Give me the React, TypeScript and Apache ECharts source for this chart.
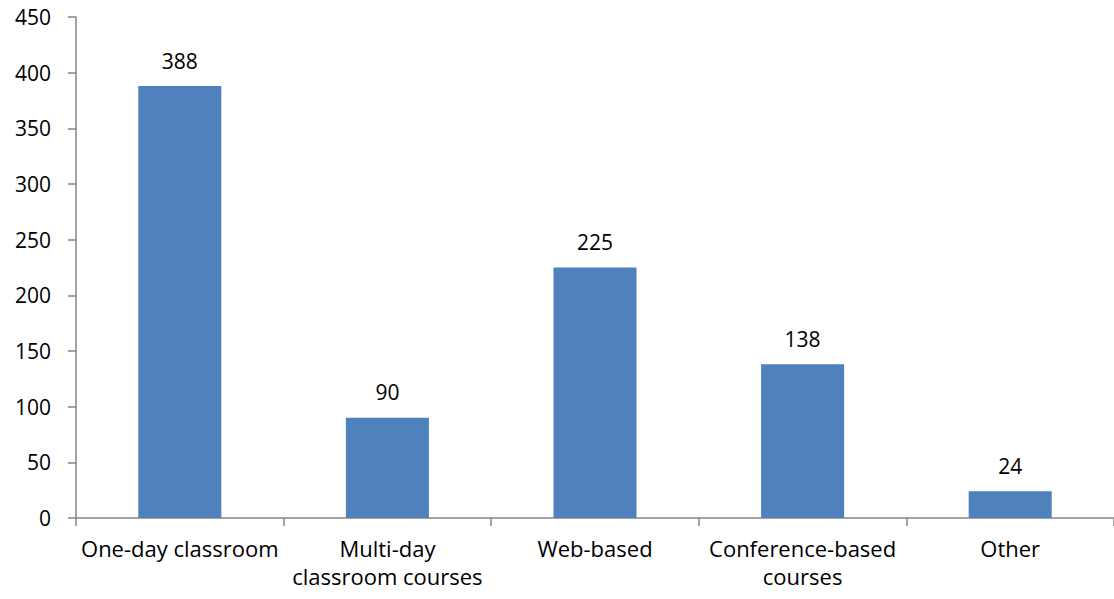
import React, { useEffect, useRef } from "react";
import * as echarts from "echarts";

const categories = [
  "One-day classroom",
  "Multi-day\nclassroom courses",
  "Web-based",
  "Conference-based\ncourses",
  "Other",
];
const values = [388, 90, 225, 138, 24];
const yTicks = { min: 0, max: 450, interval: 50 };

export default function App() {
  const ref = useRef<HTMLDivElement>(null);
  useEffect(() => {
    document.body.style.margin = "0";
    const chart = echarts.init(ref.current!, null, { renderer: "svg" });
    const font = "'Open Sans', sans-serif";
    chart.setOption({
      animation: false,
      backgroundColor: "#ffffff",
      grid: { left: 76, right: -4, top: 17, bottom: 81, containLabel: false },
      xAxis: {
        type: "category",
        data: categories,
        axisLine: { lineStyle: { color: "#868686", width: 1.5 } },
        axisTick: { show: true, length: 8, alignWithLabel: false, lineStyle: { color: "#868686", width: 1.5 } },
        axisLabel: { color: "#000", fontSize: 22, fontFamily: font, margin: 16, lineHeight: 28, interval: 0 },
        splitLine: { show: false },
      },
      yAxis: {
        type: "value",
        min: yTicks.min,
        max: yTicks.max,
        interval: yTicks.interval,
        axisLine: { show: true, lineStyle: { color: "#868686", width: 1.5 } },
        axisTick: { show: true, length: 8, lineStyle: { color: "#868686", width: 1.5 } },
        axisLabel: { color: "#000", fontSize: 21, fontFamily: font, margin: 25 },
        splitLine: { show: false },
      },
      series: [
        {
          type: "bar",
          data: values,
          barWidth: "40%",
          itemStyle: { color: "#4F81BD" },
          label: {
            show: true,
            position: "top",
            distance: 15,
            color: "#000",
            fontSize: 21,
            fontFamily: font,
          },
        },
      ],
    });
    return () => chart.dispose();
  }, []);
  return <div ref={ref} style={{ width: 1114, height: 599 }} />;
}
